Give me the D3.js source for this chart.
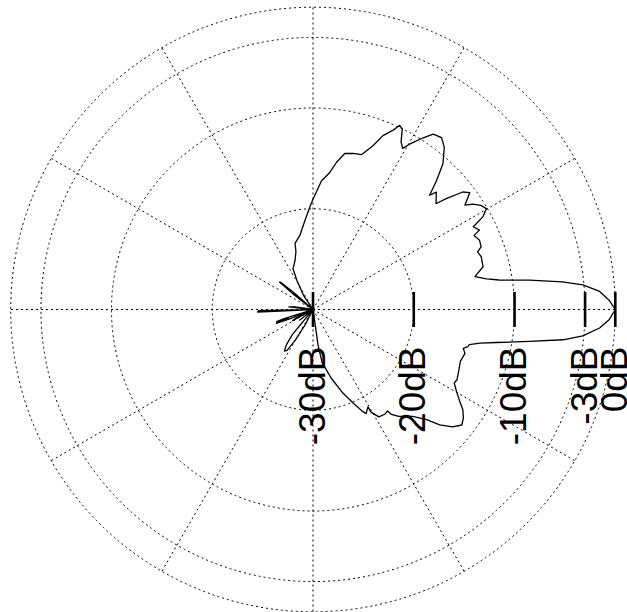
<!DOCTYPE html>
<html>
<head>
<meta charset="utf-8">
<script src="https://cdn.jsdelivr.net/npm/d3@7"></script>
<style>
  html, body { margin: 0; padding: 0; background: #fff; }
  svg { display: block; }
</style>
</head>
<body>
<svg id="chart" width="627" height="612"></svg>
<script>
// Directivity pattern: angle in degrees (counter-clockwise from 0° = right) and level in dB.
// Levels at or below -30 dB sit at the centre of the plot.
const angleDeg = [
  0, 1.8, 3.6, 5.2, 6.3, 7.7, 9.0, 10.0, 11.5, 14.1,
  17.4, 19.3, 20.4, 22.6, 24.7, 25.5, 27.3, 28.6, 30.2, 31.8,
  33.4, 34.5, 36.7, 38.1, 39.8, 40.7, 43.6, 44.4, 46.2, 48.3,
  51.0, 53.2, 55.6, 57.4, 59.7, 60.9, 62.3, 63.7, 64.8, 65.9,
  68.1, 69.9, 72.6, 75.6, 78.5, 80.9, 83.0, 86.2, 89.9, 91.7,
  95.1, 99.9, 105.2, 106.4, 110.0, 116.2, 118.9, 123.8, 128,
  136, 138.5, 139.8, 140.8, 142, 144,
  169, 172, 174, 176,
  179, 181.2, 182.6, 184.5,
  195, 197.5, 198.6, 199.4, 200.5, 202, 204,
  205, 207, 208.5, 211,
  216, 218.5, 221,
  228, 230.5, 233, 235.5, 237.5, 240, 243, 246,
  276.5, 278.3, 278.0, 279.7, 284.7, 289.4, 293.2, 295.8, 297.0, 299.4,
  299.5, 301.5, 304.4, 306.3, 306.8, 308.7, 313.0, 315.9, 317.7, 319.9,
  322.2, 324.2, 326.2, 327.9, 330.3, 332.5, 334.0, 337.0, 340.6, 343.9,
  345.5, 346.5, 347.3, 348.6, 349.8, 351.6, 353.1, 354.4, 356.3, 358.0,
  360
];
const levelDb = [
  0, -0.6, -1.5, -3.1, -5.1, -8.3, -11.3, -12.5, -13.6, -12.6,
  -12.5, -12.7, -12.2, -12.1, -12.4, -11.7, -12.1, -10.8, -10.1, -10.4,
  -11.0, -11.7, -10.6, -11.1, -12.8, -13.9, -13.1, -13.8, -12.3, -10.6,
  -9.3, -8.7, -8.9, -9.8, -11.0, -11.7, -11.2, -10.0, -9.8, -10.5,
  -11.4, -12.7, -13.9, -14.0, -14.2, -15.2, -16.3, -17.2, -19.0, -19.8,
  -21.1, -22.5, -23.2, -24.0, -24.8, -25.5, -26.7, -28.3, -30,
  -30, -27.6, -25.8, -25.7, -27.4, -30,
  -30, -28.2, -27.6, -30,
  -30, -24.6, -24.5, -30,
  -30, -27.0, -26.2, -27.4, -26.1, -27.5, -30,
  -30, -28.0, -27.7, -30,
  -30, -28.3, -30,
  -30, -26.8, -25.6, -25.0, -25.2, -26.5, -28.3, -30,
  -30, -28.0, -26.5, -24.7, -23.0, -21.3, -19.9, -18.8, -18.4, -18.9,
  -18.3, -17.5, -17.4, -17.5, -17.0, -16.4, -15.5, -14.3, -13.0, -11.9,
  -11.3, -11.6, -12.1, -12.8, -13.6, -14.2, -14.1, -14.3, -14.5, -14.3,
  -14.6, -14.2, -14.1, -13.1, -11.5, -8.3, -5.0, -3.1, -1.5, -0.6,
  0
];

// Grid rings, spokes and the labelled level ticks
const ringDb = [-20, -10, -3, 0];
const spokeDeg = [0, 30, 60, 90, 120, 150, 180, 210, 240, 270, 300, 330];
const tickDb = [-30, -20, -10, -3, 0];
const tickLabels = ["-30dB", "-20dB", "-10dB", "-3dB", "0dB"];

const cx = 313, cy = 309.5;
const rScale = d3.scaleLinear().domain([-30, 0]).range([0, 302.3]).clamp(true);
const toRad = d => d * Math.PI / 180;

const svg = d3.select("#chart");
const g = svg.append("g").attr("transform", `translate(${cx},${cy})`);

const gridStyle = sel => sel
  .attr("fill", "none")
  .attr("stroke", "#000")
  .attr("stroke-width", 1)
  .attr("stroke-dasharray", "2,3");

g.selectAll("circle.ring")
  .data(ringDb)
  .join("circle")
  .attr("class", "ring")
  .attr("r", d => rScale(d))
  .call(gridStyle);

g.selectAll("line.spoke")
  .data(spokeDeg)
  .join("line")
  .attr("class", "spoke")
  .attr("x1", 0).attr("y1", 0)
  .attr("x2", d => rScale(0) * Math.cos(toRad(d)))
  .attr("y2", d => -rScale(0) * Math.sin(toRad(d)))
  .call(gridStyle);

// Level ticks along the 0° axis
g.selectAll("line.tick")
  .data(tickDb)
  .join("line")
  .attr("class", "tick")
  .attr("x1", d => rScale(d)).attr("x2", d => rScale(d))
  .attr("y1", -17.5).attr("y2", 17.5)
  .attr("stroke", "#000")
  .attr("stroke-width", 2.6);

g.selectAll("text.tick-label")
  .data(tickDb)
  .join("text")
  .attr("class", "tick-label")
  .attr("transform", d => `translate(${rScale(d) + 11.5},${37}) rotate(-90)`)
  .attr("text-anchor", "end")
  .attr("font-family", "'Liberation Sans', Arial, Helvetica, sans-serif")
  .attr("font-size", 37)
  .attr("fill", "#000")
  .text((d, i) => tickLabels[i]);

// Pattern trace
const pattern = angleDeg.map((a, i) => ({ a, db: levelDb[i] }));
const radial = d3.lineRadial()
  .angle(d => toRad(90 - d.a))
  .radius(d => rScale(d.db));

g.append("path")
  .datum(pattern)
  .attr("d", radial)
  .attr("fill", "none")
  .attr("stroke", "#000")
  .attr("stroke-width", 1.3)
  .attr("stroke-linejoin", "round");
</script>
</body>
</html>
